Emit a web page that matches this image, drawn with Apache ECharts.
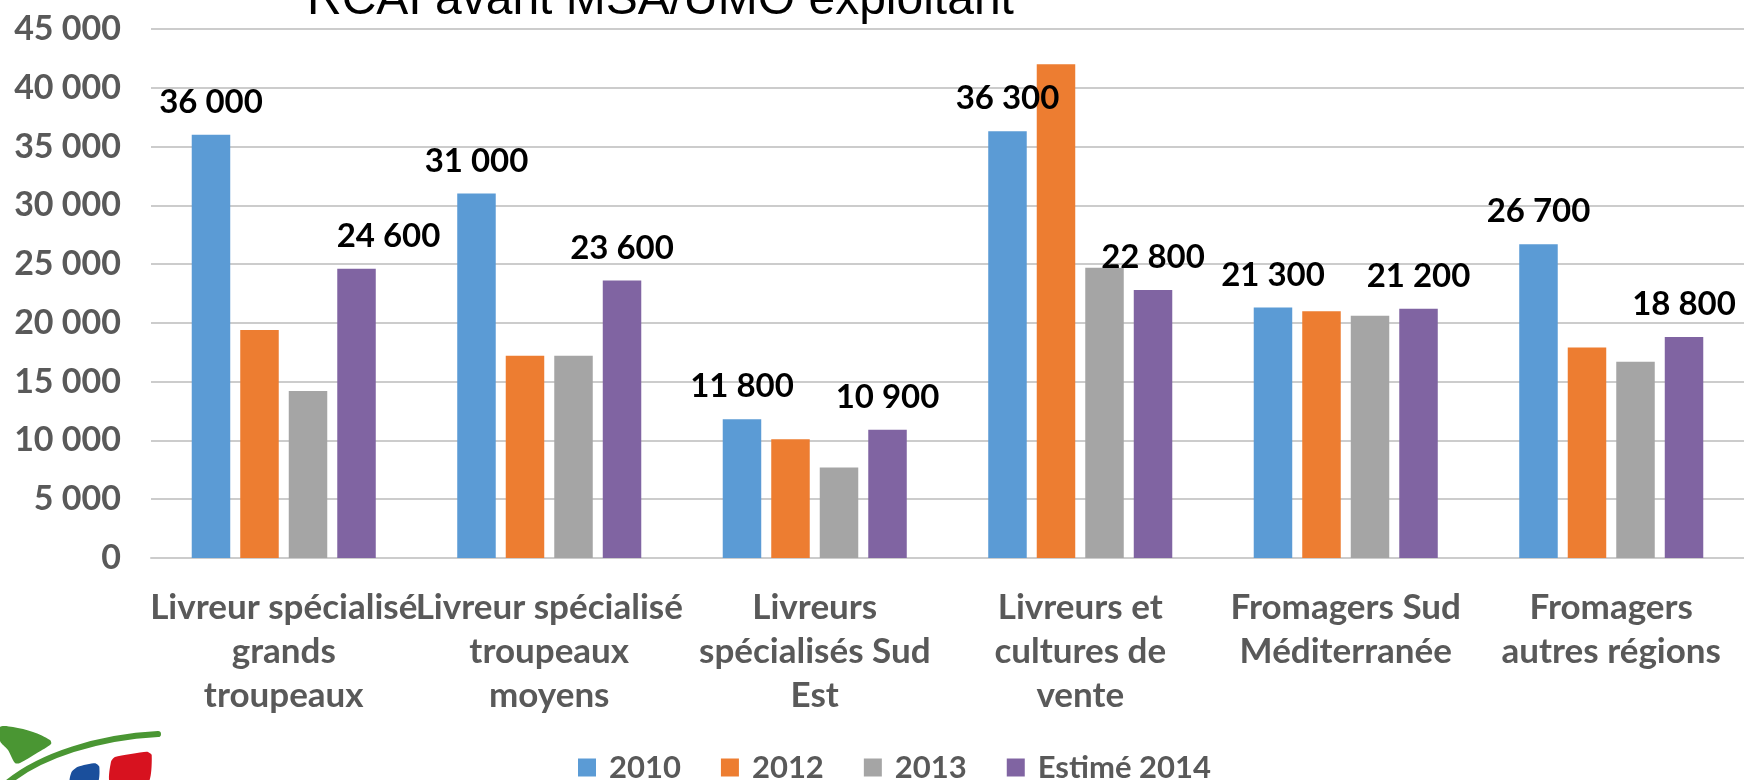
<!DOCTYPE html>
<html>
<head>
<meta charset="utf-8">
<script src="https://cdn.jsdelivr.net/npm/echarts@6/dist/echarts.min.js"></script>
<style>
  html, body { margin: 0; padding: 0; background: #ffffff; }
  #chart { width: 1744px; height: 780px; }
</style>
</head>
<body>
<div id="chart"></div>
<script>
// Categories (line breaks as they wrap under the axis)
const categories = [
  'Livreur spécialisé\ngrands\ntroupeaux',
  'Livreur spécialisé\ntroupeaux\nmoyens',
  'Livreurs\nspécialisés Sud\nEst',
  'Livreurs et\ncultures de\nvente',
  'Fromagers Sud\nMéditerranée',
  'Fromagers\nautres régions'
];

// Series names
const seriesNames = ['2010', '2012', '2013', 'Estimé 2014'];

// Values per series (euros)
const values2010 = [36000, 31000, 11800, 36300, 21300, 26700];
const values2012 = [19400, 17200, 10100, 42000, 21000, 17900];
const values2013 = [14200, 17200, 7700, 24700, 20600, 16700];
const values2014 = [24600, 23600, 10900, 22800, 21200, 18800];

// Y axis ticks
const yTicks = [0, 5000, 10000, 15000, 20000, 25000, 30000, 35000, 40000, 45000];

const title = 'RCAI avant MSA/UMO exploitant';

const colors = ['#5B9BD5', '#ED7D31', '#A5A5A5', '#8064A2'];
const labelFont = 'Lato';

function spaced(v) {
  return String(v).replace(/\B(?=(\d{3})+(?!\d))/g, ' ');
}

const valueLabel = {
  show: true,
  position: 'top',
  distance: 16,
  color: '#000000',
  fontFamily: labelFont,
  fontWeight: 'bold',
  fontSize: 33,
  formatter: p => spaced(p.value)
};

function barSeries(name, values, idx, withLabels) {
  return {
    name: name,
    type: 'bar',
    data: values.map((v, i) => {
      const item = { value: v };
      // first 2014 label sits shifted to the right of its bar
      if (idx === 3 && i === 0) item.label = { offset: [32, 0] };
      return item;
    }),
    barWidth: 38.5,
    barGap: '26%',
    itemStyle: { color: colors[idx] },
    label: withLabels ? valueLabel : { show: false },
    emphasis: { disabled: true }
  };
}

const chart = echarts.init(document.getElementById('chart'), null, { renderer: 'canvas' });

chart.setOption({
  animation: false,
  backgroundColor: '#ffffff',
  grid: { left: 151, top: 29, width: 1604, height: 529, containLabel: false },
  legend: {
    data: seriesNames,
    left: 573,
    top: 747,
    icon: 'rect',
    itemWidth: 18,
    itemHeight: 18,
    itemGap: 40,
    textStyle: {
      color: '#595959',
      fontFamily: labelFont,
      fontWeight: 'bold',
      fontSize: 31,
      padding: [0, 0, 0, 8]
    }
  },
  xAxis: {
    type: 'category',
    data: categories,
    axisTick: { show: false },
    axisLine: { show: true, lineStyle: { color: '#cccccc', width: 2 } },
    axisLabel: {
      interval: 0,
      margin: 28,
      color: '#595959',
      fontFamily: labelFont,
      fontWeight: 'bold',
      fontSize: 35,
      lineHeight: 44
    }
  },
  yAxis: {
    type: 'value',
    min: yTicks[0],
    max: yTicks[yTicks.length - 1],
    interval: yTicks[1] - yTicks[0],
    axisLine: { show: false },
    axisTick: { show: false },
    splitLine: { lineStyle: { color: '#cccccc', width: 2 } },
    axisLabel: {
      margin: 30,
      color: '#595959',
      fontFamily: labelFont,
      fontWeight: 'bold',
      fontSize: 34,
      formatter: v => spaced(v)
    }
  },
  series: [
    barSeries(seriesNames[0], values2010, 0, true),
    barSeries(seriesNames[1], values2012, 1, false),
    barSeries(seriesNames[2], values2013, 2, false),
    barSeries(seriesNames[3], values2014, 3, true)
  ],
  graphic: [
    {
      type: 'text',
      x: 307,
      y: 1,
      silent: true,
      style: {
        text: title,
        font: '48px "Liberation Sans", Arial, sans-serif',
        fill: '#000000',
        align: 'left',
        verticalAlign: 'middle'
      }
    },
    // logo: leaf, swoosh and two petals
    {
      type: 'polygon',
      silent: true,
      shape: {
        points: [[0, 727], [13, 727], [33, 732], [50, 740], [51, 744], [37, 753], [20, 763], [15, 763], [8, 750], [0, 741]],
        smooth: 0.3
      },
      style: { fill: '#4a9633' }
    },
    {
      type: 'bezierCurve',
      silent: true,
      shape: { x1: 158, y1: 734, cpx1: 100, cpy1: 737, cpx2: 40, cpy2: 755, x2: 6, y2: 784 },
      style: { stroke: '#4a9633', lineWidth: 6, fill: null, lineCap: 'round' }
    },
    {
      type: 'polygon',
      silent: true,
      shape: {
        points: [[70, 782], [71.7, 771.7], [78, 766.7], [95, 763.3], [99.3, 766.7], [97.7, 782]],
        smooth: 0.2
      },
      style: { fill: '#1a4f9c' }
    },
    {
      type: 'polygon',
      silent: true,
      shape: {
        points: [[110, 782], [111, 761.7], [115, 757], [146.7, 751.7], [151.7, 755], [148.3, 782]],
        smooth: 0.2
      },
      style: { fill: '#d7121f' }
    }
  ]
});
</script>
</body>
</html>
